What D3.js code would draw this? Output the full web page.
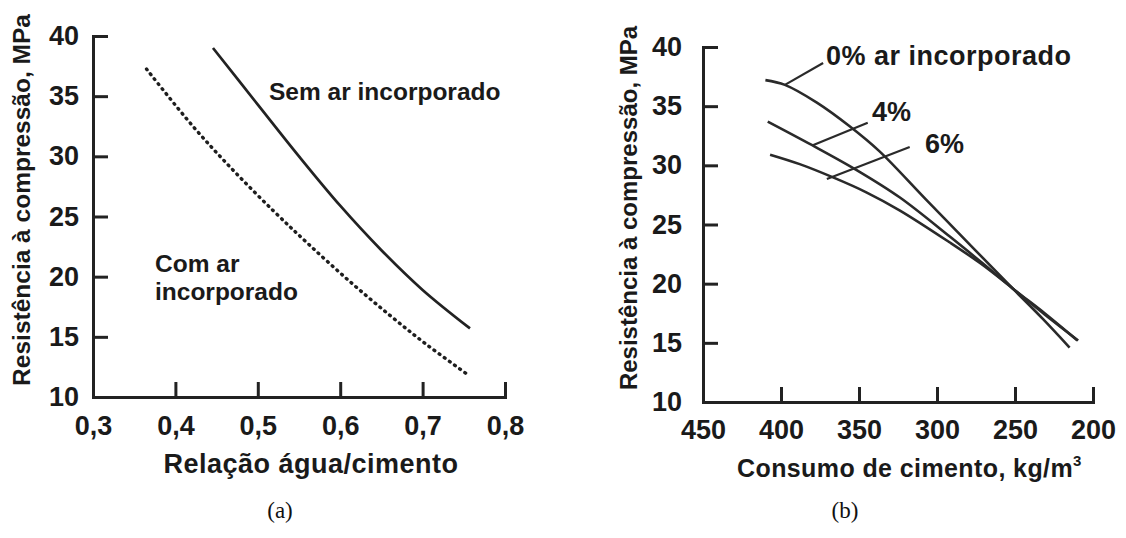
<!DOCTYPE html>
<html>
<head>
<meta charset="utf-8">
<script src="https://cdn.jsdelivr.net/npm/d3@7/dist/d3.min.js"></script>
<style>
  html, body { margin: 0; padding: 0; background: #fff; }
  svg { display: block; }
  .sans { font-family: "Liberation Sans", Arial, Helvetica, sans-serif; font-weight: bold; fill: #1a1a1a; }
  .serif { font-family: "Liberation Serif", "Times New Roman", serif; fill: #111; }
</style>
</head>
<body>
<svg id="chart" width="1126" height="538"></svg>
<script>
// ---- (a) Resistência x relação água/cimento ----
const razaoSemAr   = [0.4456, 0.50, 0.55, 0.60, 0.65, 0.70, 0.7575];
const resistSemAr  = [39.0, 34.3, 30.0, 25.9, 22.2, 18.9, 15.7];
const razaoComAr   = [0.365, 0.42, 0.47, 0.52, 0.56, 0.61, 0.66, 0.705, 0.755];
const resistComAr  = [37.25, 32.6, 28.85, 25.4, 22.8, 19.7, 16.8, 14.35, 11.85];
const ticksRazao   = [0.3, 0.4, 0.5, 0.6, 0.7, 0.8];
const ticksResist  = [10, 15, 20, 25, 30, 35, 40];

// ---- (b) Resistência x consumo de cimento ----
const consumo0  = [410, 397.5, 377, 356, 337, 307, 276, 251.5, 232, 215];
const resist0   = [37.2, 36.8, 35.3, 33.3, 31.2, 27.1, 22.9, 19.6, 17.0, 14.6];
const consumo4  = [408.5, 380, 351.5, 324, 292, 271.5, 251.5, 231, 210];
const resist4   = [33.7, 31.7, 29.6, 27.3, 24.0, 21.8, 19.6, 17.5, 15.2];
const consumo6  = [407, 388, 367, 345, 324, 292, 272, 251.5, 231, 209.5];
const resist6   = [30.9, 30.1, 29.0, 27.7, 26.2, 23.5, 21.7, 19.6, 17.4, 15.2];
const ticksConsumo = [450, 400, 350, 300, 250, 200];

// leader lines for the air-content labels: [consumo, resistência] pairs
const guia0 = [[397.5, 36.8], [373, 38.65]];
const guia4 = [[379.6, 31.7], [344.4, 33.6]];
const guia6 = [[370.6, 28.85], [317.5, 31.55]];

const fmtComma = d => d3.format(".1f")(d).replace(".", ",");
const ink = "#222";

const svg = d3.select("#chart");

function styleAxis(g) {
  g.select(".domain").attr("stroke", ink).attr("stroke-width", 3).attr("stroke-linecap", "square");
  g.selectAll(".tick line").attr("stroke", ink).attr("stroke-width", 3);
  g.selectAll(".tick text").attr("class", "sans").attr("fill", "#1a1a1a");
}

// ================= panel (a) =================
const xA = d3.scaleLinear().domain([0.3, 0.8]).range([93, 505]);
const yA = d3.scaleLinear().domain([10, 40]).range([397, 36]);

const gA = svg.append("g");

gA.append("g")
  .attr("transform", `translate(0,${yA(10)})`)
  .call(d3.axisBottom(xA).tickValues(ticksRazao).tickFormat(fmtComma)
        .tickSizeInner(-15).tickSizeOuter(0).tickPadding(19))
  .call(styleAxis)
  .call(g => g.selectAll(".tick text").style("font-size", "27px"));

gA.append("g")
  .attr("transform", `translate(${xA(0.3)},0)`)
  .call(d3.axisLeft(yA).tickValues(ticksResist)
        .tickSizeInner(-15).tickSizeOuter(0).tickPadding(14))
  .call(styleAxis)
  .call(g => g.selectAll(".tick text").style("font-size", "27px"));

const lineA = d3.line().x(d => xA(d[0])).y(d => yA(d[1])).curve(d3.curveCatmullRom.alpha(0.5));

// concrete without entrained air: solid curve
gA.append("path")
  .datum(d3.zip(razaoSemAr, resistSemAr))
  .attr("d", lineA)
  .attr("fill", "none").attr("stroke", ink).attr("stroke-width", 2.7);

// concrete with entrained air: dotted curve
gA.append("path")
  .datum(d3.zip(razaoComAr, resistComAr))
  .attr("d", lineA)
  .attr("fill", "none").attr("stroke", "#1e1e1e").attr("stroke-width", 3.4)
  .attr("stroke-linecap", "round").attr("stroke-dasharray", "0.9,5.4");

gA.append("text").attr("class", "sans").style("font-size", "24.5px")
  .attr("x", 269).attr("y", 100).text("Sem ar incorporado");
gA.append("text").attr("class", "sans").style("font-size", "24.5px")
  .attr("x", 155).attr("y", 272).text("Com ar");
gA.append("text").attr("class", "sans").style("font-size", "24.5px")
  .attr("x", 155).attr("y", 300).text("incorporado");

gA.append("text").attr("class", "sans").style("font-size", "27px").style("letter-spacing", "0.5px")
  .attr("x", 311).attr("y", 473).attr("text-anchor", "middle")
  .text("Relação água/cimento");

gA.append("text").attr("class", "sans").style("font-size", "24.5px")
  .attr("transform", "translate(30,200) rotate(-90)").attr("text-anchor", "middle")
  .text("Resistência à compressão, MPa");

gA.append("text").attr("class", "serif").style("font-size", "23px")
  .attr("x", 280).attr("y", 518).attr("text-anchor", "middle").text("(a)");

// ================= panel (b) =================
const xB = d3.scaleLinear().domain([450, 200]).range([703, 1093]);
const yB = d3.scaleLinear().domain([10, 40]).range([402, 47]);

const gB = svg.append("g");

gB.append("g")
  .attr("transform", `translate(0,${yB(10)})`)
  .call(d3.axisBottom(xB).tickValues(ticksConsumo).tickFormat(d3.format("d"))
        .tickSizeInner(-15).tickSizeOuter(0).tickPadding(18))
  .call(styleAxis)
  .call(g => g.selectAll(".tick text").style("font-size", "27px"));

gB.append("g")
  .attr("transform", `translate(${xB(450)},0)`)
  .call(d3.axisLeft(yB).tickValues(ticksResist)
        .tickSizeInner(-15).tickSizeOuter(0).tickPadding(21))
  .call(styleAxis)
  .call(g => g.selectAll(".tick text").style("font-size", "27px"));

const lineB = d3.line().x(d => xB(d[0])).y(d => yB(d[1])).curve(d3.curveCatmullRom.alpha(0.5));

[[consumo0, resist0], [consumo4, resist4], [consumo6, resist6]].forEach(([c, r]) => {
  gB.append("path")
    .datum(d3.zip(c, r))
    .attr("d", lineB)
    .attr("fill", "none").attr("stroke", "#2a2a2a").attr("stroke-width", 2.6);
});

const straight = d3.line().x(d => xB(d[0])).y(d => yB(d[1]));
[guia0, guia4, guia6].forEach(seg => {
  gB.append("path").datum(seg).attr("d", straight)
    .attr("fill", "none").attr("stroke", "#2a2a2a").attr("stroke-width", 2.2);
});

gB.append("text").attr("class", "sans").style("font-size", "27px").style("letter-spacing", "0.5px")
  .attr("x", 826).attr("y", 65).text("0% ar incorporado");
gB.append("text").attr("class", "sans").style("font-size", "27px")
  .attr("x", 872).attr("y", 121).text("4%");
gB.append("text").attr("class", "sans").style("font-size", "27px")
  .attr("x", 925).attr("y", 153).text("6%");

const tB = gB.append("text").attr("class", "sans").style("font-size", "25px").style("letter-spacing", "0.4px")
  .attr("x", 737).attr("y", 477);
tB.append("tspan").text("Consumo de cimento, kg/m");
tB.append("tspan").attr("dy", -11).style("font-size", "15px").text("3");

gB.append("text").attr("class", "sans").style("font-size", "24px")
  .attr("transform", "translate(637,208) rotate(-90)").attr("text-anchor", "middle")
  .text("Resistência à compressão, MPa");

gB.append("text").attr("class", "serif").style("font-size", "23px")
  .attr("x", 845).attr("y", 518).attr("text-anchor", "middle").text("(b)");
</script>
</body>
</html>
